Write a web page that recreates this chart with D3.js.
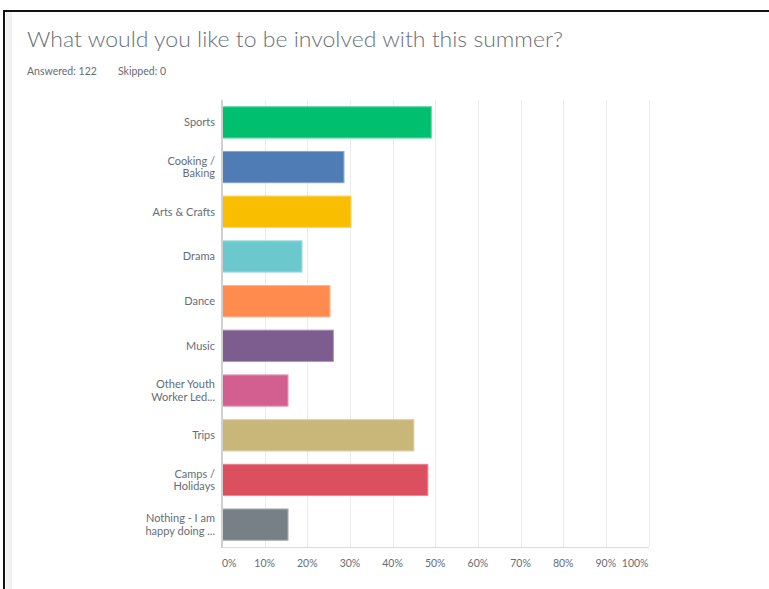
<!DOCTYPE html>
<html>
<head>
<meta charset="utf-8">
<script src="https://cdn.jsdelivr.net/npm/d3@7"></script>
<style>
  html, body { margin: 0; padding: 0; background: #fff; }
  svg { display: block; }
</style>
</head>
<body>
<svg id="chart" width="769" height="589"></svg>
<script>
// ---- data ----
const categories = [
  ["Sports"],
  ["Cooking /", "Baking"],
  ["Arts & Crafts"],
  ["Drama"],
  ["Dance"],
  ["Music"],
  ["Other Youth", "Worker Led..."],
  ["Trips"],
  ["Camps /", "Holidays"],
  ["Nothing - I am", "happy doing ..."]
];
const values = [49.18, 28.69, 30.33, 18.85, 25.41, 26.23, 15.57, 45.08, 48.36, 15.57];
const colors = ["#00bf6f", "#507cb6", "#f9be00", "#6bc8cd", "#ff8b4f", "#7d5c8f", "#d25f90", "#c9b77a", "#dc4f5e", "#768086"];
const tickValues = [0, 10, 20, 30, 40, 50, 60, 70, 80, 90, 100];
const tickLabels = ["0%", "10%", "20%", "30%", "40%", "50%", "60%", "70%", "80%", "90%", "100%"];
const title = "What would you like to be involved with this summer?";
const subtitle = ["Answered: 122", "Skipped: 0"];

// ---- layout ----
const svg = d3.select("#chart");
const font = "Lato, 'Open Sans', sans-serif";
const textColor = "#666d75";

// frame
svg.append("rect").attr("x", 6).attr("y", 12).attr("width", 6).attr("height", 577).attr("fill", "#f1f1f1");
svg.append("line").attr("x1", 3).attr("x2", 769).attr("y1", 11).attr("y2", 11).attr("stroke", "#111").attr("stroke-width", 2);
svg.append("line").attr("x1", 4).attr("x2", 4).attr("y1", 10).attr("y2", 589).attr("stroke", "#111").attr("stroke-width", 2);

svg.append("text").attr("x", 27).attr("y", 47)
  .attr("font-family", font).attr("font-size", 21).attr("font-weight", 300).attr("fill", "#6a7079")
  .attr("textLength", 536).attr("lengthAdjust", "spacingAndGlyphs")
  .text(title);

svg.append("text").attr("x", 27).attr("y", 75)
  .attr("font-family", font).attr("font-size", 10.5).attr("fill", textColor)
  .text(subtitle[0]);
svg.append("text").attr("x", 118).attr("y", 75)
  .attr("font-family", font).attr("font-size", 10.5).attr("fill", textColor)
  .text(subtitle[1]);

const x = d3.scaleLinear().domain([0, 100]).range([222, 648.5]);
const y = d3.scaleBand().domain(d3.range(categories.length)).range([100, 547])
  .paddingInner(0.28).paddingOuter(0.14);

// gridlines
svg.append("g").selectAll("line").data(tickValues.slice(1)).join("line")
  .attr("x1", d => Math.round(x(d)) + 0.5).attr("x2", d => Math.round(x(d)) + 0.5)
  .attr("y1", 100).attr("y2", 547)
  .attr("stroke", "#ececec").attr("stroke-width", 1);

// bottom axis line
svg.append("line").attr("x1", 222).attr("x2", 649).attr("y1", 547.5).attr("y2", 547.5)
  .attr("stroke", "#d9d9d9").attr("stroke-width", 1);

// bars
svg.append("g").selectAll("rect").data(values).join("rect")
  .attr("x", x(0))
  .attr("y", (d, i) => y(i))
  .attr("width", d => x(d) - x(0))
  .attr("height", y.bandwidth())
  .attr("fill", (d, i) => colors[i]);
svg.append("g").selectAll("rect").data(values).join("rect")
  .attr("x", x(0) + 0.5)
  .attr("y", (d, i) => y(i) + 0.5)
  .attr("width", d => x(d) - x(0) - 1)
  .attr("height", y.bandwidth() - 1)
  .attr("fill", "none")
  .attr("stroke", "rgba(255,255,255,0.35)").attr("stroke-width", 1);

// left axis line
svg.append("line").attr("x1", 222).attr("x2", 222).attr("y1", 100).attr("y2", 548)
  .attr("stroke", "#d0d0d0").attr("stroke-width", 2);

// category labels
const lab = svg.append("g").selectAll("text").data(categories).join("text")
  .attr("font-family", font).attr("font-size", 11).attr("fill", textColor)
  .attr("text-anchor", "end");
lab.each(function(lines, i) {
  const cy = y(i) + y.bandwidth() / 2;
  const lh = 12.5;
  const start = cy - (lines.length - 1) * lh / 2 + 4;
  d3.select(this).selectAll("tspan").data(lines).join("tspan")
    .attr("x", 215).attr("y", (d, j) => start + j * lh).text(d => d);
});

// x tick labels
svg.append("g").selectAll("text").data(tickValues).join("text")
  .attr("x", d => x(d))
  .attr("y", 567)
  .attr("font-family", font).attr("font-size", 10.5).attr("fill", textColor)
  .attr("text-anchor", (d, i) => i === 0 ? "start" : (i === tickValues.length - 1 ? "end" : "middle"))
  .text((d, i) => tickLabels[i]);
</script>
</body>
</html>
